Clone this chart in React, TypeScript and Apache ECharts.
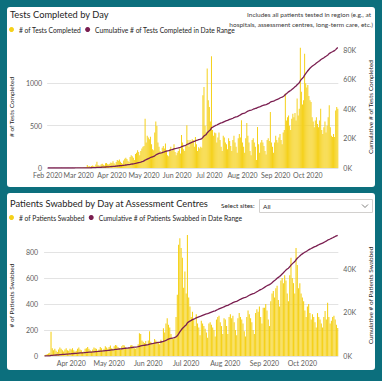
import React, { useEffect, useRef } from 'react';
import * as echarts from 'echarts';

// ---------- Tests Completed by Day (Feb 1 – Oct 29, 2020) ----------
const testsFeb = [0, 0, 0, 1, 0, 0, 2, 0, 1, 0, 0, 1, 0, 2, 0, 0, 1, 0, 0, 2, 1, 0, 0, 3, 1, 0, 2, 1, 3];
const testsMar = [2, 3, 5, 4, 6, 8, 10, 12, 35, 18, 20, 15, 25, 30, 22, 18, 40, 75, 35, 28, 30, 45, 50, 38, 30, 55, 60, 45, 40, 50, 65];
const testsApr = [60, 80, 55, 40, 70, 95, 85, 100, 75, 60, 50, 90, 110, 120, 105, 85, 70, 130, 150, 140, 120, 95, 165, 180, 210, 190, 150, 200, 230, 250];
const testsMay = [260, 580, 300, 380, 360, 340, 370, 280, 220, 210, 420, 550, 495, 300, 250, 200, 180, 240, 260, 230, 290, 210, 150, 140, 220, 250, 200, 230, 280, 190, 150];
const testsJun = [180, 200, 230, 170, 390, 300, 220, 200, 260, 505, 330, 250, 330, 300, 340, 330, 250, 365, 280, 200, 245, 230, 250, 240, 860, 955, 500, 420, 1175, 800];
const testsJul = [720, 550, 1320, 450, 380, 420, 410, 300, 360, 420, 330, 250, 200, 380, 360, 300, 280, 220, 350, 320, 260, 200, 330, 380, 300, 250, 180, 350, 400, 360, 565];
const testsAug = [300, 250, 180, 350, 530, 380, 300, 200, 150, 330, 350, 300, 250, 95, 485, 280, 180, 300, 330, 300, 260, 200, 160, 330, 350, 320, 660, 300, 250, 180, 300];
const testsSep = [380, 330, 300, 360, 400, 330, 280, 420, 450, 880, 560, 600, 620, 500, 450, 580, 640, 600, 650, 560, 820, 620, 700, 1420, 900, 750, 800, 1350, 1000, 950];
const testsOct = [980, 850, 800, 780, 600, 550, 480, 560, 600, 520, 480, 560, 700, 450, 400, 480, 550, 420, 500, 600, 740, 480, 380, 365, 400, 365, 680, 720, 700];
const testsStart = [2020, 1, 1]; // year, month index (0-based), day

// ---------- Patients Swabbed by Day (Mar 11 – Oct 29, 2020) ----------
const swabMar = [5, 10, 15, 20, 25, 187, 60, 45, 55, 40, 30, 50, 65, 55, 45, 35, 50, 60, 45, 40, 55];
const swabApr = [50, 60, 45, 35, 40, 55, 65, 50, 45, 30, 35, 55, 60, 70, 55, 45, 35, 50, 65, 60, 55, 40, 50, 70, 60, 45, 55, 75, 65, 55];
const swabMay = [70, 80, 60, 55, 75, 85, 80, 70, 60, 50, 75, 85, 80, 65, 60, 55, 70, 80, 85, 75, 60, 55, 65, 90, 175, 170, 120, 110, 100, 115, 90];
const swabJun = [120, 190, 110, 100, 95, 130, 120, 110, 100, 90, 125, 110, 213, 180, 250, 290, 240, 220, 170, 135, 130, 140, 300, 470, 855, 905, 830, 755, 525, 650];
const swabJul = [480, 930, 450, 380, 300, 340, 280, 230, 320, 250, 220, 160, 270, 250, 230, 210, 180, 140, 250, 260, 240, 220, 200, 150, 280, 300, 310, 260, 230, 170, 290];
const swabAug = [280, 230, 170, 300, 320, 290, 310, 260, 200, 160, 290, 330, 300, 280, 250, 190, 150, 300, 350, 320, 290, 260, 200, 170, 330, 360, 340, 380, 300, 250, 370];
const swabSep = [370, 400, 350, 280, 230, 420, 480, 500, 450, 520, 540, 430, 380, 580, 600, 560, 620, 580, 480, 420, 620, 755, 600, 560, 480, 830, 700, 520, 560, 480];
const swabOct = [450, 420, 350, 300, 380, 400, 330, 280, 320, 300, 260, 220, 330, 300, 280, 250, 220, 300, 345, 280, 410, 300, 250, 270, 300, 310, 280, 240, 215];
const swabStart = [2020, 2, 11];

const monthTickLabels = ['Jan 2020', 'Feb 2020', 'Mar 2020', 'Apr 2020', 'May 2020', 'Jun 2020', 'Jul 2020', 'Aug 2020', 'Sep 2020', 'Oct 2020', 'Nov 2020', 'Dec 2020'];

const testsDaily = [...testsFeb, ...testsMar, ...testsApr, ...testsMay, ...testsJun, ...testsJul, ...testsAug, ...testsSep, ...testsOct];
const swabDaily = [...swabMar, ...swabApr, ...swabMay, ...swabJun, ...swabJul, ...swabAug, ...swabSep, ...swabOct];

function makeDates(start: number[], n: number): string[] {
  const out: string[] = [];
  for (let i = 0; i < n; i++) {
    const d = new Date(Date.UTC(start[0], start[1], start[2] + i));
    const m = String(d.getUTCMonth() + 1).padStart(2, '0');
    const dd = String(d.getUTCDate()).padStart(2, '0');
    out.push(`${d.getUTCFullYear()}-${m}-${dd}`);
  }
  return out;
}
function cumulative(a: number[]): number[] {
  const out: number[] = [];
  let s = 0;
  for (const v of a) { s += v; out.push(s); }
  return out;
}

const testsDates = makeDates(testsStart, testsDaily.length);
const swabDates = makeDates(swabStart, swabDaily.length);

const FONT = "Lato, 'Noto Sans', sans-serif";
const YELLOW = '#F5D11A';
const MAROON = '#7A1E50';
const GRID_LINE = '#e3e3e3';
const LABEL = '#605e5c';
const DARK = '#252423';

const xAxisCommon = (gridIndex: number, dates: string[]) => ({
  type: 'category',
  gridIndex,
  data: dates,
  boundaryGap: true,
  axisLine: { show: false },
  axisTick: { show: false },
  axisLabel: {
    interval: (_i: number, v: string) => v.slice(8) === '01',
    formatter: (v: string) => monthTickLabels[parseInt(v.slice(5, 7), 10) - 1],
    fontSize: 7,
    color: LABEL,
    fontFamily: FONT,
    margin: 3,
  },
});

export default function App() {
  const ref = useRef<HTMLDivElement>(null);
  useEffect(() => {
    if (!ref.current) return;
    const chart = echarts.init(ref.current, undefined, { renderer: 'svg' });
    const nameStyle = { fontSize: 6.5, color: DARK, fontFamily: FONT };
    const lblStyle = { fontSize: 7, color: LABEL, fontFamily: FONT };
    const titleStyle = { fontSize: 9.3, fontWeight: 'normal', color: DARK, fontFamily: FONT };
    const legendText = { fontSize: 6.7, color: DARK, fontFamily: FONT };
    chart.setOption({
      animation: false,
      backgroundColor: '#0c6f7d',
      title: [
        { text: 'Tests Completed by Day', left: 10, top: 10, padding: 0, textStyle: titleStyle },
        { text: 'Patients Swabbed by Day at Assessment Centres', left: 10, top: 199, padding: 0, textStyle: titleStyle },
      ],
      legend: [
        {
          data: ['# of Tests Completed', 'Cumulative # of Tests Completed in Date Range'],
          left: 9, top: 26, padding: 0, icon: 'circle', itemWidth: 5, itemHeight: 5, itemGap: 4,
          textStyle: legendText,
        },
        {
          data: ['# of Patients Swabbed', 'Cumulative # of Patients Swabbed in Date Range'],
          left: 9, top: 214, padding: 0, icon: 'circle', itemWidth: 5, itemHeight: 5, itemGap: 4,
          textStyle: legendText,
        },
      ],
      grid: [
        { left: 38, top: 46, width: 307, height: 122 },
        { left: 39, top: 235, width: 306, height: 121 },
      ],
      xAxis: [xAxisCommon(0, testsDates), xAxisCommon(1, swabDates)],
      yAxis: [
        {
          type: 'value', gridIndex: 0, min: 0, max: 1440, interval: 500,
          name: '# of Tests Completed', nameLocation: 'middle', nameGap: 26, nameRotate: 90, nameTextStyle: nameStyle,
          axisLabel: { ...lblStyle, margin: 5, formatter: (v: number) => (v % 500 === 0 ? String(v) : '') },
          splitLine: { lineStyle: { color: GRID_LINE }, showMaxLine: false },
          axisLine: { show: false }, axisTick: { show: false },
        },
        {
          type: 'value', gridIndex: 0, position: 'right', min: 0, max: 82500, interval: 20000,
          name: 'Cumulative # of Tests Completed', nameLocation: 'middle', nameGap: 24, nameRotate: 90, nameTextStyle: nameStyle,
          axisLabel: { ...lblStyle, margin: 5, formatter: (v: number) => (v % 20000 === 0 ? `${v / 1000}K` : '') },
          splitLine: { show: false }, axisLine: { show: false }, axisTick: { show: false },
        },
        {
          type: 'value', gridIndex: 1, min: 0, max: 930, interval: 200,
          name: '# of Patients Swabbed', nameLocation: 'middle', nameGap: 27, nameRotate: 90, nameTextStyle: nameStyle,
          axisLabel: { ...lblStyle, margin: 6, formatter: (v: number) => (v % 200 === 0 ? String(v) : '') },
          splitLine: { lineStyle: { color: GRID_LINE }, showMaxLine: false },
          axisLine: { show: false }, axisTick: { show: false },
        },
        {
          type: 'value', gridIndex: 1, position: 'right', min: 0, max: 55500, interval: 20000,
          name: 'Cumulative # of Patients Swabbed', nameLocation: 'middle', nameGap: 24, nameRotate: 90, nameTextStyle: nameStyle,
          axisLabel: { ...lblStyle, margin: 5, formatter: (v: number) => (v % 20000 === 0 ? `${v / 1000}K` : '') },
          splitLine: { show: false }, axisLine: { show: false }, axisTick: { show: false },
        },
      ],
      series: [
        {
          type: 'bar', name: '# of Tests Completed', xAxisIndex: 0, yAxisIndex: 0, data: testsDaily,
          itemStyle: { color: YELLOW }, barCategoryGap: '15%', silent: true,
        },
        {
          type: 'line', name: 'Cumulative # of Tests Completed in Date Range', xAxisIndex: 0, yAxisIndex: 1,
          data: cumulative(testsDaily), showSymbol: false, lineStyle: { color: MAROON, width: 1.3 }, itemStyle: { color: MAROON }, z: 5, silent: true,
        },
        {
          type: 'bar', name: '# of Patients Swabbed', xAxisIndex: 1, yAxisIndex: 2, data: swabDaily,
          itemStyle: { color: YELLOW }, barCategoryGap: '15%', silent: true,
        },
        {
          type: 'line', name: 'Cumulative # of Patients Swabbed in Date Range', xAxisIndex: 1, yAxisIndex: 3,
          data: cumulative(swabDaily), showSymbol: false, lineStyle: { color: MAROON, width: 1.3 }, itemStyle: { color: MAROON }, z: 5, silent: true,
        },
      ],
      graphic: [
        { type: 'rect', z: -10, shape: { x: 7, y: 7, width: 368, height: 180, r: 3 }, style: { fill: '#ffffff' } },
        { type: 'rect', z: -10, shape: { x: 7, y: 193, width: 368, height: 177, r: 3 }, style: { fill: '#ffffff' } },
        { type: 'text', style: { text: 'Includes all patients tested in region (e.g., at', x: 371, y: 14, align: 'right', verticalAlign: 'middle', fontSize: 6.5, fill: '#3b3a39', fontFamily: FONT } },
        { type: 'text', style: { text: 'hospitals, assessment centres, long-term care, etc.)', x: 373, y: 24, align: 'right', verticalAlign: 'middle', fontSize: 6.5, fill: '#3b3a39', fontFamily: FONT } },
        { type: 'text', style: { text: 'Select sites:', x: 221, y: 205, align: 'left', verticalAlign: 'middle', fontSize: 6.5, fill: DARK, fontFamily: FONT } },
        { type: 'rect', shape: { x: 259.5, y: 199.5, width: 113, height: 13 }, style: { fill: '#ffffff', stroke: '#d2d0ce', lineWidth: 1 } },
        { type: 'text', style: { text: 'All', x: 263, y: 206.5, align: 'left', verticalAlign: 'middle', fontSize: 6.5, fill: DARK, fontFamily: FONT } },
        { type: 'polyline', shape: { points: [[362, 204.5], [365, 207.5], [368, 204.5]] }, style: { stroke: '#605e5c', lineWidth: 0.8, fill: 'none' } },
      ],
    });
    return () => chart.dispose();
  }, []);
  return <div ref={ref} style={{ position: 'absolute', left: 0, top: 0, width: 382, height: 381 }} />;
}
